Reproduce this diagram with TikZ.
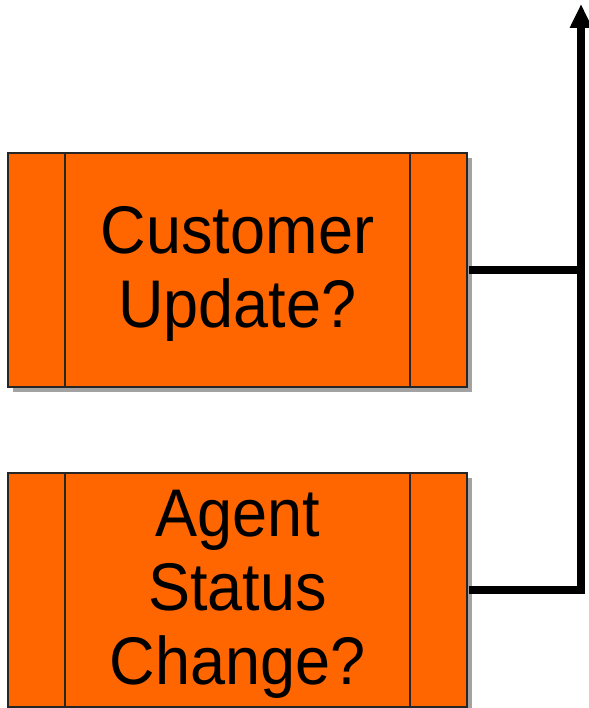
\documentclass[tikz,border=0pt]{standalone}
\usepackage{fontspec}
\setmainfont{Liberation Sans}
\usetikzlibrary{arrows.meta,shadows}
\definecolor{boxorange}{HTML}{FF6600}
\newcommand{\boxtext}[1]{\scalebox{1}[1.07]{\fontsize{63}{69}\selectfont\begin{tabular}{@{}c@{}}#1\end{tabular}}}
\tikzset{
  decbox/.style={draw=black!85, line width=2pt, fill=boxorange, rectangle,
    minimum width=459pt, minimum height=234pt, inner sep=0pt,
    drop shadow={shadow xshift=5pt, shadow yshift=-5pt, fill=black!45, opacity=0.8}},
  boxlabel/.style={inner sep=0pt, align=center},
  divider/.style={draw=black!85, line width=2pt},
  flow/.style={line width=7.5pt, draw=black}
}
\begin{document}
\begin{tikzpicture}[x=1pt,y=1pt]
\useasboundingbox (0,0) rectangle (588,708);
\node[decbox] (b1) at (237.5,438) {};
\node[decbox] (b2) at (237.5,118) {};
\node[boxlabel] (t1) at ([yshift=-6pt]b1.center) {\boxtext{Customer\\Update?}};
\node[boxlabel] (t2) at ([yshift=-6pt]b2.center) {\boxtext{Agent\\Status\\Change?}};
\foreach \b in {b1,b2}{
  \draw[divider] ([xshift=58pt]\b.north west) -- ([xshift=58pt]\b.south west);
  \draw[divider] ([xshift=-58pt]\b.north east) -- ([xshift=-58pt]\b.south east);
}
\coordinate (top) at (581,704);
\draw[flow] ([xshift=1pt]b1.east) -- (b1.east -| top);
\draw[flow,-{Triangle[width=21pt,length=24pt]}] ([xshift=1pt]b2.east) -| (top);
\end{tikzpicture}
\end{document}
